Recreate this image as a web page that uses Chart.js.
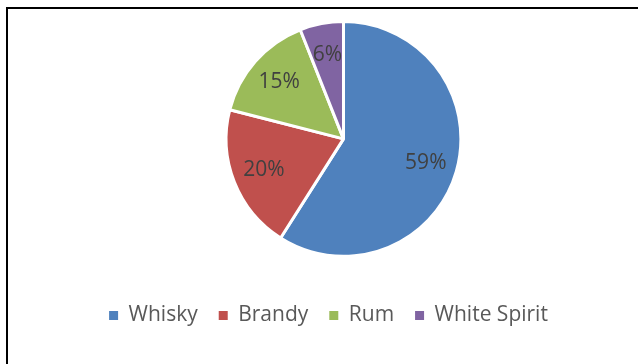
<!DOCTYPE html>
<html>
<head>
<meta charset="utf-8">
<script src="https://cdn.jsdelivr.net/npm/chart.js@4"></script>
<style>
html, body { margin: 0; padding: 0; background: #fff; overflow: hidden; }
#frame { position: absolute; left: 6px; top: 7px; width: 640px; height: 370px;
  border-left: 2px solid #000; border-top: 2px solid #000; }
#wrap { position: relative; width: 630px; height: 355px; }
</style>
</head>
<body>
<div id="frame"><div id="wrap"><canvas id="pie"></canvas></div></div>
<script>
// data
const drinks = ["Whisky", "Brandy", "Rum", "White Spirit"];
const shares = [59, 20, 15, 6];
const sliceColors = ["#4F81BD", "#C0504D", "#9BBB59", "#8064A2"];

// pie sits a bit right of the legend's centre in the original
const pieShift = 15;

// shift the pie and write percent labels inside the slices
const pctLabels = {
  id: "pctLabels",
  beforeDatasetsDraw(chart) {
    chart.ctx.save();
    chart.ctx.translate(pieShift, 0);
  },
  afterDatasetsDraw(chart) {
    const ctx = chart.ctx;
    const meta = chart.getDatasetMeta(0);
    const total = shares.reduce((a, b) => a + b, 0);
    ctx.font = '21px "Open Sans"';
    ctx.fillStyle = "#404040";
    ctx.textAlign = "center";
    ctx.textBaseline = "middle";
    meta.data.forEach((arc, i) => {
      const p = arc.getProps(["x", "y", "startAngle", "endAngle", "outerRadius"], true);
      const mid = (p.startAngle + p.endAngle) / 2;
      const r = p.outerRadius * 0.73;
      const txt = Math.round(shares[i] / total * 100) + "%";
      ctx.fillText(txt, p.x + Math.cos(mid) * r, p.y + Math.sin(mid) * r);
    });
    ctx.restore();
  }
};

new Chart(document.getElementById("pie").getContext("2d"), {
  type: "pie",
  data: {
    labels: drinks,
    datasets: [{
      data: shares,
      backgroundColor: sliceColors,
      borderColor: "#fff",
      borderWidth: 3
    }]
  },
  options: {
    responsive: true,
    maintainAspectRatio: false,
    animation: false,
    layout: { padding: { left: 11, right: 0, top: 11, bottom: 28 } },
    plugins: {
      tooltip: { enabled: false },
      legend: {
        position: "bottom",
        title: { display: true, text: "", font: { size: 1 }, padding: { top: 25, bottom: 0 } },
        labels: {
          boxWidth: 9,
          boxHeight: 9,
          padding: 21,
          color: "#595959",
          font: { family: "Open Sans", size: 21 },
          generateLabels(chart) {
            const items = Chart.overrides.pie.plugins.legend.labels.generateLabels(chart);
            return items.map(it => Object.assign(it, { lineWidth: 0, strokeStyle: it.fillStyle }));
          }
        }
      }
    }
  },
  plugins: [pctLabels]
});
</script>
</body>
</html>
